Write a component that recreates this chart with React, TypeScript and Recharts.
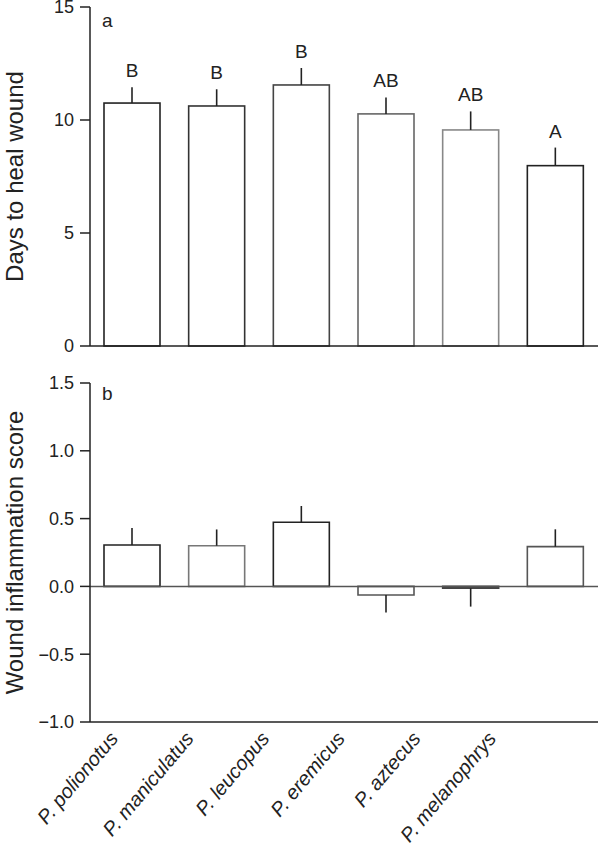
import React from "react";
import {
  BarChart,
  Bar,
  XAxis,
  YAxis,
  ErrorBar,
  ReferenceLine,
  Label,
  Cell,
} from "recharts";

const species = [
  "P. polionotus",
  "P. maniculatus",
  "P. leucopus",
  "P. eremicus",
  "P. aztecus",
  "P. melanophrys",
];

const healDays = [10.75, 10.62, 11.55, 10.27, 9.56, 7.98];
const healSE = [0.7, 0.74, 0.75, 0.73, 0.82, 0.8];
const healGroups = ["B", "B", "B", "AB", "AB", "A"];

const inflammation = [0.305, 0.3, 0.473, -0.063, -0.013, 0.293];
const inflammationSE = [0.125, 0.12, 0.12, 0.13, 0.136, 0.128];

const healTicks = [0, 5, 10, 15];
const inflammationTicks = [-1, -0.5, 0, 0.5, 1, 1.5];

const font = "'Liberation Sans', Arial, Helvetica, sans-serif";
const ink = "#222";
const topStrokes = ["#222", "#333", "#444", "#666", "#888", "#222"];
const bottomStrokes = ["#222", "#777", "#222", "#555", "#444", "#555"];

// one-sided error bars: up for positive means, down for negative ones
const healData = species.map((name, i) => ({
  name,
  days: healDays[i],
  err: [0, healSE[i]],
}));

const inflammationData = species.map((name, i) => ({
  name,
  score: inflammation[i],
  err: inflammation[i] >= 0 ? [0, inflammationSE[i]] : [inflammationSE[i], 0],
}));

const HealBar = (props: any) => {
  const { x, y, width, height, index } = props;
  const errPx = (healSE[index] * height) / healDays[index];
  return (
    <g>
      <rect
        x={x}
        y={y}
        width={width}
        height={height}
        fill="#fff"
        stroke={topStrokes[index]}
        strokeWidth={1.6}
      />
      <text
        x={x + width / 2}
        y={y - errPx - 10}
        textAnchor="middle"
        fontFamily={font}
        fontSize={19}
        fill={ink}
      >
        {healGroups[index]}
      </text>
    </g>
  );
};

const axisTitle = (title: string, panel: string, panelDy: number) => (props: any) => {
  const vb = props.viewBox;
  const cy = vb.y + vb.height / 2;
  return (
    <g>
      <text
        x={23}
        y={cy}
        transform={`rotate(-90 23 ${cy})`}
        textAnchor="middle"
        fontFamily={font}
        fontSize={24}
        fill={ink}
      >
        {title}
      </text>
      <text
        x={vb.x + vb.width + 12}
        y={vb.y + panelDy}
        fontFamily={font}
        fontSize={19}
        fill={ink}
      >
        {panel}
      </text>
    </g>
  );
};

const SpeciesTick = (props: any) => {
  const { x, y, payload } = props;
  const tx = 0.893 * x + 1;
  const ty = y + 17;
  return (
    <text
      x={tx}
      y={ty}
      transform={`rotate(-50 ${tx} ${ty})`}
      textAnchor="end"
      fontFamily={font}
      fontStyle="italic"
      fontSize={20}
      fill={ink}
    >
      {payload.value}
    </text>
  );
};

const tickStyle = { fontFamily: font, fontSize: 18, fill: ink };
const minus = (v: number) => v.toFixed(1).replace("-", "\u2212");

export default function App() {
  return (
    <div style={{ position: "absolute", left: 0, top: 0, width: 600, height: 850, background: "#fff" }}>
      <BarChart
        width={600}
        height={360}
        data={healData}
        margin={{ top: 7, right: 2, bottom: 0, left: 0 }}
      >
        <XAxis
          dataKey="name"
          height={14}
          tick={false}
          tickLine={false}
          axisLine={{ stroke: ink, strokeWidth: 1.5 }}
        />
        <YAxis
          width={90}
          domain={[0, 15]}
          ticks={healTicks}
          interval={0}
          tickSize={10}
          tickMargin={6}
          tick={tickStyle}
          axisLine={{ stroke: ink, strokeWidth: 1.5 }}
          tickLine={{ stroke: ink, strokeWidth: 1.5 }}
        >
          <Label content={axisTitle("Days to heal wound", "a", 20)} />
        </YAxis>
        <Bar dataKey="days" barSize={56} shape={HealBar} isAnimationActive={false}>
          <ErrorBar dataKey="err" width={0} stroke={ink} strokeWidth={1.6} direction="y" />
        </Bar>
      </BarChart>
      <BarChart
        width={600}
        height={490}
        data={inflammationData}
        margin={{ top: 23, right: 2, bottom: 0, left: 0 }}
      >
        <XAxis
          dataKey="name"
          height={128}
          interval={0}
          tickSize={0}
          tickMargin={0}
          tickLine={false}
          tick={<SpeciesTick />}
          axisLine={{ stroke: ink, strokeWidth: 1.5 }}
        />
        <YAxis
          width={90}
          domain={[-1, 1.5]}
          ticks={inflammationTicks}
          interval={0}
          tickSize={10}
          tickMargin={6}
          tick={tickStyle}
          tickFormatter={minus}
          axisLine={{ stroke: ink, strokeWidth: 1.5 }}
          tickLine={{ stroke: ink, strokeWidth: 1.5 }}
        >
          <Label content={axisTitle("Wound inflammation score", "b", 17)} />
        </YAxis>
        <Bar
          dataKey="score"
          barSize={56}
          fill="#fff"
          strokeWidth={1.6}
          isAnimationActive={false}
        >
          {inflammationData.map((d, i) => (
            <Cell key={d.name} stroke={bottomStrokes[i]} />
          ))}
          <ErrorBar dataKey="err" width={0} stroke={ink} strokeWidth={1.6} direction="y" />
        </Bar>
        <ReferenceLine y={0} stroke="#555" strokeWidth={1.5} />
      </BarChart>
    </div>
  );
}
